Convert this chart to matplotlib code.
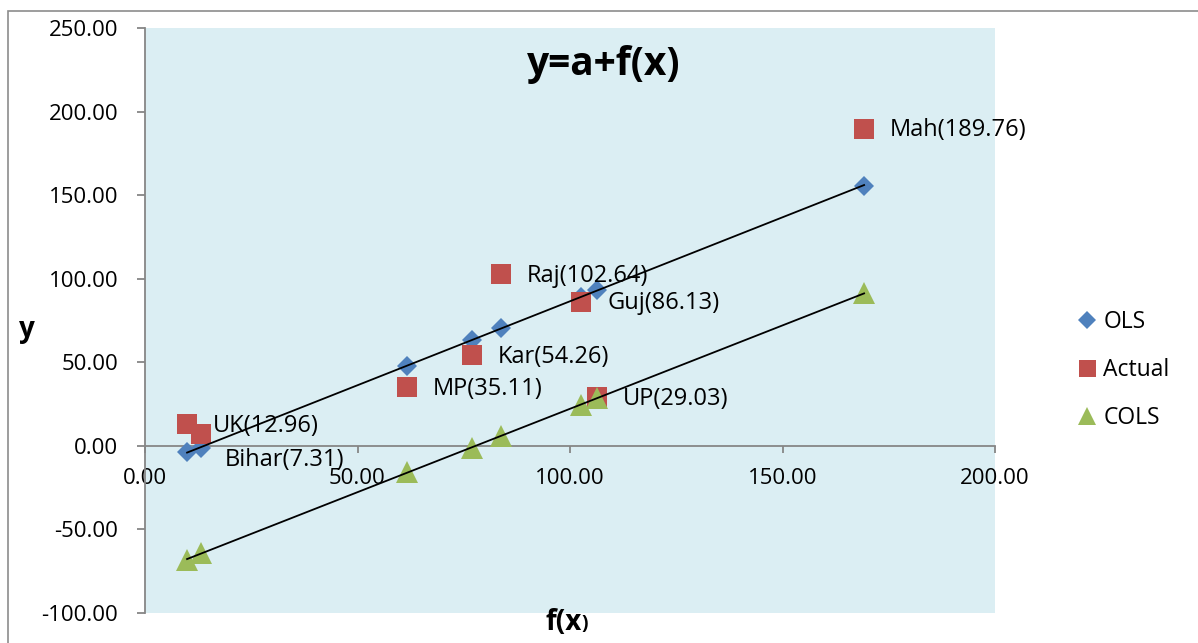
import numpy as np
import matplotlib
matplotlib.use("Agg")
import matplotlib.pyplot as plt
from matplotlib.patches import Rectangle
from matplotlib.lines import Line2D

plt.rcParams['font.family'] = ['Open Sans', 'DejaVu Sans']

# State-level values
states = ['UK', 'Bihar', 'MP', 'Kar', 'Raj', 'Guj', 'UP', 'Mah']
fx = [9.9, 13.2, 61.6, 76.9, 83.8, 102.6, 106.4, 169.2]
actual = [12.96, 7.31, 35.11, 54.26, 102.64, 86.13, 29.03, 189.76]
ols = [-3.6, -1.5, 47.9, 63.6, 70.3, 89.3, 93.1, 155.7]
cols = [-68.0, -64.0, -15.6, -1.2, 5.6, 24.5, 28.6, 91.5]

x_ticks = [0, 50, 100, 150, 200]
y_ticks = [-100, -50, 0, 50, 100, 150, 200, 250]

W, H = 1198, 643
fig = plt.figure(figsize=(W / 100, H / 100), dpi=100)
fig.patch.set_facecolor('white')

# outer chart frame
fig.add_artist(Rectangle((8 / W, -0.02), 1.05, 1 - 10.5 / H + 0.02,
                         transform=fig.transFigure, fill=False,
                         edgecolor='#8c8c8c', linewidth=1.2))

ax = fig.add_axes([145 / W, 30 / H, 850 / W, 585 / H])
ax.set_facecolor('#DBEEF3')
ax.set_xlim(0, 200)
ax.set_ylim(-100, 250)

axis_col = '#868686'
for s in ['top', 'right']:
    ax.spines[s].set_visible(False)
ax.spines['left'].set_color(axis_col)
ax.spines['left'].set_linewidth(1.3)
ax.spines['bottom'].set_position(('data', 0))
ax.spines['bottom'].set_color(axis_col)
ax.spines['bottom'].set_linewidth(1.3)

ax.set_xticks(x_ticks)
ax.set_yticks(y_ticks)
ax.set_xticklabels([f'{v:.2f}' for v in x_ticks])
ax.set_yticklabels([f'{v:.2f}' for v in y_ticks])
ax.tick_params(axis='y', direction='out', length=5.8, width=1.3, color=axis_col,
               pad=13.5, labelsize=16, labelcolor='black')
ax.tick_params(axis='x', direction='out', length=5, width=1.3, color=axis_col,
               pad=11, labelsize=16, labelcolor='black')

blue = '#4F81BD'
red = '#C0504D'
green = '#9BBB59'

ax.plot(fx, ols, linestyle='none', marker='D', ms=10.2, color=blue,
        markeredgewidth=0, zorder=3)
ax.plot(fx, actual, linestyle='none', marker='s', ms=14.4, color=red,
        markeredgewidth=0, zorder=4)
ax.plot(fx, cols, linestyle='none', marker='^', ms=15.5, color=green,
        markeredgewidth=0, zorder=5)

# linear trendlines through the fitted series
xs = np.array([min(fx), max(fx)])
for series in (ols, cols):
    b, a = np.polyfit(fx, series, 1)
    ax.plot(xs, a + b * xs, color='black', linewidth=1.3, zorder=8)

# data labels for the actual values
for name, xv, yv in zip(states, fx, actual):
    if name == 'Bihar':
        off = (17, -19)
    elif name == 'UK':
        off = (18.7, -1.5)
    else:
        off = (18.7, -1)
    ax.annotate(f'{name}({yv:.2f})', (xv, yv), xytext=off,
                textcoords='offset points', ha='left', va='center',
                fontsize=17, color='black', zorder=6)

# title and axis labels
fig.text(604 / W, 1 - 64 / H, 'y=a+f(x)', ha='center', va='center',
         fontsize=28, fontweight='bold')
fig.text(27 / W, 1 - 330 / H, 'y', ha='center', va='center',
         fontsize=20, fontweight='bold')
t1 = fig.text(545 / W, 1 - 622 / H, 'f(x', ha='left', va='center',
              fontsize=20, fontweight='bold')
fig.canvas.draw()
bb = t1.get_window_extent()
fig.text(bb.x1 / W, 1 - 624 / H, ')', ha='left', va='center',
         fontsize=14, fontweight='bold')

# legend
handles = [
    Line2D([], [], linestyle='none', marker='D', ms=10.2, color=blue, markeredgewidth=0),
    Line2D([], [], linestyle='none', marker='s', ms=14.4, color=red, markeredgewidth=0),
    Line2D([], [], linestyle='none', marker='^', ms=15.5, color=green, markeredgewidth=0),
]
fig.legend(handles, ['OLS', 'Actual', 'COLS'], loc='center left',
           bbox_to_anchor=(1077 / W, 1 - 370 / H), frameon=False,
           fontsize=16.5, markerscale=0.85, handlelength=0.9,
           handletextpad=0.25, labelspacing=1.05, borderpad=0, borderaxespad=0)

fig.savefig('out.png', dpi=100)
